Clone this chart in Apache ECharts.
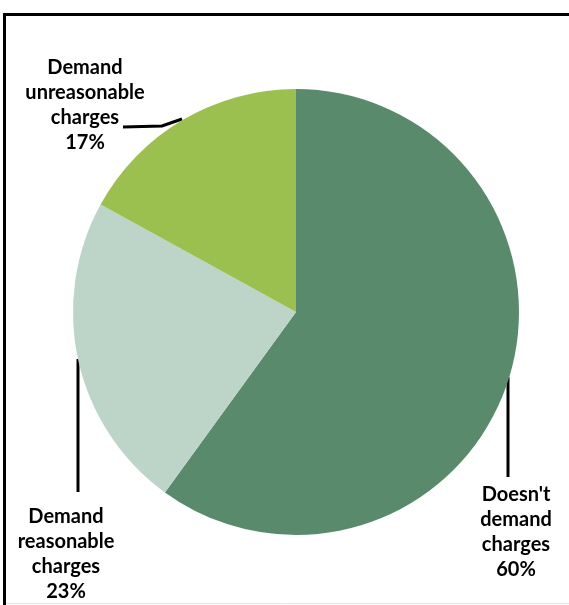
<!DOCTYPE html>
<html>
<head>
<meta charset="utf-8">
<script src="https://cdn.jsdelivr.net/npm/echarts@6/dist/echarts.min.js"></script>
<style>
html,body{margin:0;padding:0;background:#fff;}
#c{width:569px;height:605px;}
</style>
</head>
<body>
<div id="c"></div>
<script>
var categories = ["Doesn't demand charges", "Demand reasonable charges", "Demand unreasonable charges"];
var values = [60, 23, 17];
var colors = ['#5a8a6c', '#bcd5c8', '#9cc04f'];

var CX = 296, CY = 312, R = 223;
// label anchor positions (label centers) and leader line points
var labelPos = [
  {x: 516, y: 532, line: [[508, 377], [508, 477]]},
  {x: 66, y: 554, line: [[78, 359], [78, 492]]},
  {x: 85, y: 105, line: [[182, 119], [162, 126], [123, 127]]}
];

var chart = echarts.init(document.getElementById('c'), null, {renderer: 'canvas'});
chart.setOption({
  backgroundColor: '#ffffff',
  animation: false,
  graphic: [
    {type: 'line', shape: {x1: 4.5, y1: 13, x2: 4.5, y2: 605}, style: {stroke: '#000', lineWidth: 3}},
    {type: 'line', shape: {x1: 3, y1: 14.5, x2: 569, y2: 14.5}, style: {stroke: '#000', lineWidth: 3}},
    {type: 'line', shape: {x1: 6, y1: 603.5, x2: 569, y2: 603.5}, style: {stroke: '#e4e4e4', lineWidth: 1}}
  ],
  series: [{
    type: 'pie',
    center: [CX, CY],
    radius: [0, R],
    startAngle: 90,
    clockwise: true,
    avoidLabelOverlap: false,
    data: categories.map(function (n, i) {
      return {name: n, value: values[i], itemStyle: {color: colors[i]}};
    }),
    itemStyle: {borderWidth: 0},
    label: {
      show: true,
      position: 'outside',
      overflow: 'none',
      formatter: function (p) { return p.name.split(' ').join('\n') + '\n' + p.value + '%'; },
      fontFamily: 'Lato',
      fontWeight: 'bold',
      fontSize: 20,
      lineHeight: 25,
      color: '#000',
      align: 'center'
    },
    labelLine: {show: true, lineStyle: {color: '#000', width: 3}, smooth: false},
    labelLayout: function (p) {
      var lp = labelPos[p.dataIndex];
      return {
        x: lp.x, y: lp.y, align: 'center', verticalAlign: 'middle',
        hideOverlap: false,
        labelLinePoints: lp.line
      };
    },
    emphasis: {disabled: true}
  }]
});
</script>
</body>
</html>
